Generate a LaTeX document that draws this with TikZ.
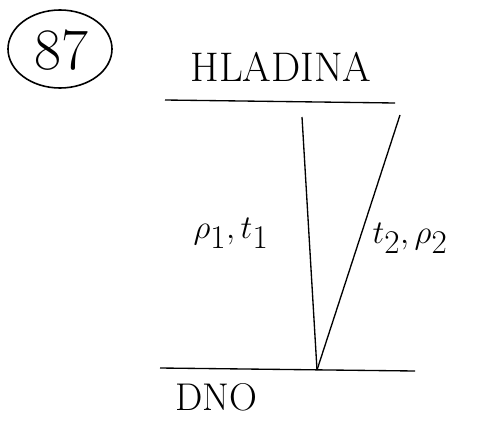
\documentclass[tikz,border=0pt]{standalone}
\usepackage{fontspec}
\usetikzlibrary{positioning}

\begin{document}
\begin{tikzpicture}[x=0.75pt,y=-0.75pt,line width=1pt,
  lbl/.style={inner sep=0pt}]
\useasboundingbox (0,0) rectangle (481,421);
% ---------- number ----------
\node[lbl] (num) at (61,50) {\fontsize{44}{46}\selectfont 87};
\draw[line width=1.2pt] (60,49) ellipse [x radius=52, y radius=39];
% ---------- surface ----------
\node[lbl] (hladina) at (281,67) {\fontsize{31}{33}\selectfont HLADINA};
\coordinate (hl) at (165,100);
\coordinate (hr) at (395,103);
\draw (hl) -- (hr);
% ---------- bottom ----------
\coordinate (dl) at (160,368);
\coordinate (dr) at (415,371);
\draw (dl) -- (dr);
\node[lbl] (dno) at (216,397) {\fontsize{29}{31}\selectfont DNO};
% ---------- profiles ----------
\coordinate (bed) at (317,370);
\coordinate (top1) at (302,117);
\coordinate (top2) at (400,115);
\draw (top1) -- (bed);
\draw (top2) -- (bed);
\node[lbl] (p1) at (231,233) {\fontsize{36}{38}\selectfont $\rho_1,t_1$};
\node[lbl] (p2) at (410,238) {\fontsize{34}{36}\selectfont $t_2,\rho_2$};
\end{tikzpicture}
\end{document}
